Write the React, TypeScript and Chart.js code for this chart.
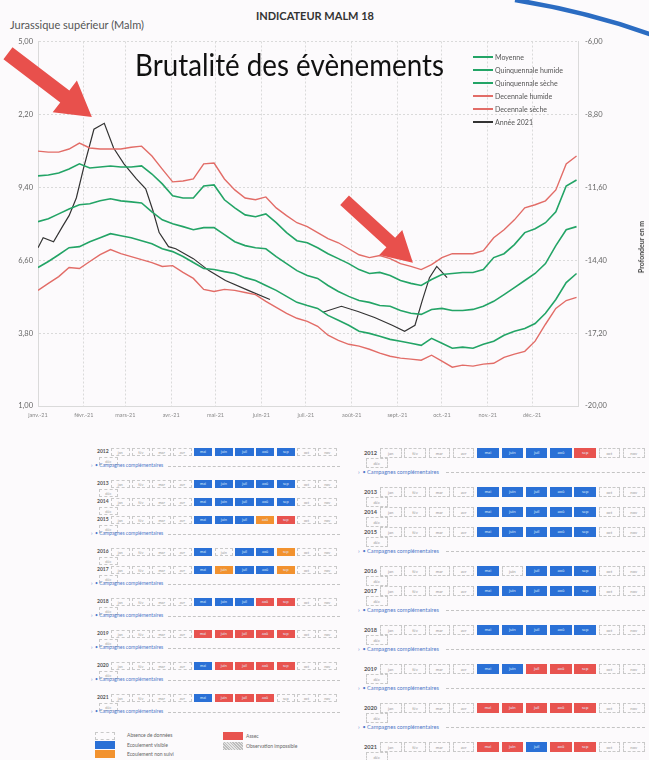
import React, { useEffect, useRef } from "react";
import { Chart, registerables } from "chart.js";

Chart.register(...registerables);

// ---------- chart data ----------
const monthLabels = ["janv.-21", "févr.-21", "mars-21", "avr.-21", "mai-21", "juin-21", "juil.-21", "août-21", "sept.-21", "oct.-21", "nov.-21", "déc.-21"];
const monthStartWeeks = [0, 4.43, 8.43, 12.86, 17.14, 21.57, 25.86, 30.29, 34.71, 39, 43.43, 47.71];
const yearEndWeek = 52.14;

const leftTickValues = [1, 3.8, 6.6, 9.4, 12.2, 15];
const leftTickLabels = ["1,00", "3,80", "6,60", "9,40", "2,20", "5,00"];
const rightTickValues = [-20, -17.2, -14.4, -11.6, -8.8, -6];
const rightTickLabels = ["-20,00", "-17,20", "-14,40", "-11,60", "-8,80", "-6,00"];

// weekly values (week 0 .. 52)
const moyenne = [8.08, 8.19, 8.38, 8.57, 8.73, 8.77, 8.88, 8.96, 8.88, 8.84, 8.80, 8.46, 8.15, 8.00, 7.89, 7.77, 7.85, 7.85, 7.58, 7.31, 7.16, 7.08, 7.04, 6.74, 6.47, 6.20, 6.01, 5.90, 5.63, 5.40, 5.21, 5.05, 4.98, 4.86, 4.83, 4.67, 4.56, 4.52, 4.71, 4.75, 4.67, 4.67, 4.71, 4.83, 5.02, 5.28, 5.55, 5.82, 6.09, 6.47, 7.16, 7.77, 7.89];
const quinquennaleHumide = [9.84, 9.87, 9.95, 10.10, 10.30, 10.14, 10.18, 10.22, 10.18, 10.18, 10.22, 9.91, 9.53, 9.07, 8.99, 8.99, 9.45, 9.49, 8.92, 8.61, 8.34, 8.27, 8.38, 8.04, 7.66, 7.35, 7.27, 7.08, 6.85, 6.66, 6.47, 6.24, 6.09, 6.13, 6.01, 5.82, 5.71, 5.63, 5.86, 6.05, 6.09, 6.13, 6.13, 6.24, 6.70, 6.85, 7.20, 7.66, 7.81, 8.04, 8.46, 9.45, 9.68];
const quinquennaleSeche = [6.32, 6.55, 6.81, 7.08, 7.12, 7.31, 7.46, 7.62, 7.54, 7.46, 7.35, 7.23, 7.04, 6.93, 6.74, 6.51, 6.28, 6.24, 6.16, 6.09, 5.93, 5.82, 5.63, 5.44, 5.21, 4.98, 4.86, 4.75, 4.48, 4.29, 4.10, 3.87, 3.79, 3.68, 3.56, 3.49, 3.41, 3.33, 3.60, 3.41, 3.22, 3.26, 3.22, 3.37, 3.49, 3.72, 3.87, 3.98, 4.17, 4.56, 5.09, 5.74, 6.09];
const decennaleHumide = [10.79, 10.75, 10.75, 10.87, 11.10, 10.91, 10.87, 10.87, 10.87, 10.94, 10.98, 10.60, 10.10, 9.61, 9.64, 9.72, 10.30, 10.33, 9.72, 9.30, 8.99, 8.92, 9.03, 8.61, 8.31, 8.04, 7.89, 7.66, 7.43, 7.27, 7.04, 6.81, 6.70, 6.78, 6.66, 6.47, 6.36, 6.24, 6.43, 6.70, 6.85, 6.85, 6.85, 6.97, 7.46, 7.77, 8.15, 8.61, 8.73, 8.88, 9.30, 10.30, 10.60];
const decennaleSeche = [5.44, 5.71, 5.97, 6.32, 6.28, 6.55, 6.81, 7.01, 6.85, 6.74, 6.62, 6.51, 6.36, 6.39, 6.13, 5.90, 5.48, 5.40, 5.48, 5.44, 5.36, 5.28, 5.02, 4.79, 4.56, 4.37, 4.25, 4.06, 3.72, 3.52, 3.37, 3.30, 3.18, 3.03, 2.91, 2.84, 2.80, 2.76, 2.95, 2.72, 2.49, 2.57, 2.53, 2.61, 2.64, 2.87, 2.99, 3.10, 3.49, 4.14, 4.75, 5.05, 5.17];

const annee2021Weeks = [0, 0.5, 1.5, 2.4, 3, 3.7, 4.4, 5.4, 6.4, 7.3, 8.3, 9.5, 10.4, 11.1, 11.7, 12.6, 13.3, 15, 16.5, 18.1, 20.3, 22.4, 25, 27.5, 29.3, 30.9, 32.5, 34.2, 35.4, 36.4, 37.1, 37.8, 38.5, 39.5];
const annee2021Values = [7.08, 7.46, 7.31, 7.92, 8.31, 8.99, 10.14, 11.63, 11.86, 10.91, 10.30, 9.72, 9.34, 8.50, 7.66, 7.12, 7.04, 6.66, 6.20, 5.82, 5.44, 5.09, null, 4.60, 4.83, 4.63, 4.40, 4.10, 3.87, 4.10, 5.05, 5.93, 6.36, 5.93];

// annotation arrows (data coordinates: week, value)
const arrowTailWeeks = [-2.9, 29.6];
const arrowTailValues = [14.55, 8.9];
const arrowTipWeeks = [5.2, 36.2];
const arrowTipValues = [12.1, 6.5];

// ---------- table data ----------
const tableMonths = ["jan", "fév", "mar", "avr", "mai", "juin", "juil", "aoû", "sep", "oct", "nov", "déc"];
const tableYears = [2012, 2013, 2014, 2015, 2016, 2017, 2018, 2019, 2020, 2021];
// V = écoulement visible, N = écoulement non suivi, A = assec, - = absence de données
const leftStatus = ["----VVVVV---", "----VVVVV---", "----VVVVV---", "----VVVNA---", "----V-VVN---", "----VNVVN---", "----VVVAA---", "----AAAAA---", "----VAAAA---", "----VAAA----"];
const leftCampaign = [true, false, false, true, false, true, true, true, true, true];
const rightStatus = ["----VVVVA---", "----VVVVV---", "----VVVVV---", "----VVVVV---", "----V-VVV---", "----VVVVV---", "----VVVVV---", "----VVAAA---", "----AAAAA---", "----AAVAA---"];
const rightCampaign = [true, false, false, true, false, true, true, true, true, false];

const GREEN = "#23a466";
const RED = "#e26c67";
const BLACK = "#333333";
const ARROW = "#e8504c";
const BLUE = "#2a70d6";
const ORANGE = "#f2922f";
const ASSEC = "#e8534f";

const legendItems = [
  { label: "Moyenne", color: GREEN },
  { label: "Quinquennale humide", color: GREEN },
  { label: "Quinquennale sèche", color: GREEN },
  { label: "Decennale humide", color: RED },
  { label: "Decennale sèche", color: RED },
  { label: "Année 2021", color: BLACK },
];

const statusColor: Record<string, string> = { V: BLUE, N: ORANGE, A: ASSEC };

const arrowPlugin = {
  id: "arrows",
  afterDatasetsDraw(chart: any) {
    const { ctx, scales } = chart;
    const x = scales.x;
    const y = scales.y;
    const shafts = [15, 13];
    const heads = [40, 34];
    const headLens = [34, 30];
    arrowTailWeeks.forEach((_, i) => {
      const x0 = x.getPixelForValue(arrowTailWeeks[i]);
      const y0 = y.getPixelForValue(arrowTailValues[i]);
      const x1 = x.getPixelForValue(arrowTipWeeks[i]);
      const y1 = y.getPixelForValue(arrowTipValues[i]);
      const len = Math.hypot(x1 - x0, y1 - y0);
      const dx = (x1 - x0) / len;
      const dy = (y1 - y0) / len;
      const nx = -dy;
      const ny = dx;
      const bx = x1 - dx * headLens[i];
      const by = y1 - dy * headLens[i];
      const sw = shafts[i] / 2;
      const hw = heads[i] / 2;
      ctx.save();
      ctx.fillStyle = ARROW;
      ctx.beginPath();
      ctx.moveTo(x0 + nx * sw, y0 + ny * sw);
      ctx.lineTo(bx + nx * sw, by + ny * sw);
      ctx.lineTo(bx + nx * hw, by + ny * hw);
      ctx.lineTo(x1, y1);
      ctx.lineTo(bx - nx * hw, by - ny * hw);
      ctx.lineTo(bx - nx * sw, by - ny * sw);
      ctx.lineTo(x0 - nx * sw, y0 - ny * sw);
      ctx.closePath();
      ctx.fill();
      ctx.restore();
    });
  },
};

function weekly(values: number[]) {
  return values.map((v, i) => ({ x: i, y: v }));
}

type Geom = {
  labelX: number; cellX0: number; pitch: number; cellW: number; cellH: number;
  y0: number; rowPitch: number; campOffset: number; campAfter: number;
  textEnd: number; lineEnd: number; font: number;
};

function StatusTable({ status, campaign, g }: { status: string[]; campaign: boolean[]; g: Geom }) {
  const items: any[] = [];
  let y = g.y0;
  tableYears.forEach((yr, r) => {
    items.push(
      <div key={"y" + yr} style={{ position: "absolute", left: g.labelX, top: y - g.font * 0.6, fontSize: g.font, lineHeight: 1, fontWeight: 700, color: "#555" }}>{yr}</div>
    );
    status[r].split("").forEach((c, m) => {
      const isDec = m === 11;
      const left = isDec ? g.labelX + 2 : g.cellX0 + m * g.pitch;
      const top = isDec ? y + g.cellH / 2 + 0.5 : y - g.cellH / 2;
      const col = statusColor[c];
      items.push(
        <div key={"c" + yr + m} style={{
          position: "absolute", left, top, width: g.cellW, height: g.cellH, boxSizing: "border-box",
          background: col || "transparent", border: col ? "none" : "1px dashed #c9c9c9",
          color: col ? "#dfe9fb" : "#999", fontSize: g.font * 0.75, lineHeight: g.cellH + "px", textAlign: "center",
        }}>{tableMonths[m]}</div>
      );
    });
    if (campaign[r]) {
      const cy = y + g.campOffset;
      items.push(
        <div key={"t" + yr} style={{ position: "absolute", left: g.labelX - 6, top: cy - g.font * 0.6, fontSize: g.font, lineHeight: 1, color: "#4f78c9", whiteSpace: "nowrap" }}>›&nbsp;&nbsp;•&nbsp;Campagnes complémentaires</div>
      );
      items.push(
        <div key={"l" + yr} style={{ position: "absolute", left: g.textEnd, top: cy, width: g.lineEnd - g.textEnd, borderTop: "1px dashed #c4c4c4" }} />
      );
      y = cy + g.campAfter;
    } else {
      y += g.rowPitch;
    }
  });
  return <>{items}</>;
}

const leftGeom: Geom = { labelX: 97, cellX0: 111, pitch: 20.7, cellW: 18.5, cellH: 8, y0: 452, rowPitch: 18, campOffset: 14, campAfter: 18, textEnd: 168, lineEnd: 340, font: 5 };
const rightGeom: Geom = { labelX: 364, cellX0: 380, pitch: 24.3, cellW: 21.5, cellH: 9.5, y0: 453, rowPitch: 20, campOffset: 19, campAfter: 20, textEnd: 446, lineEnd: 645, font: 5.6 };

export default function App() {
  const ref = useRef<HTMLCanvasElement>(null);

  useEffect(() => {
    const gridColor = "#dadada";
    const chart = new Chart(ref.current!, {
      type: "line",
      data: {
        datasets: [
          { label: "Moyenne", data: weekly(moyenne), borderColor: GREEN, borderWidth: 1.6 },
          { label: "Quinquennale humide", data: weekly(quinquennaleHumide), borderColor: GREEN, borderWidth: 1.6 },
          { label: "Quinquennale sèche", data: weekly(quinquennaleSeche), borderColor: GREEN, borderWidth: 1.6 },
          { label: "Decennale humide", data: weekly(decennaleHumide), borderColor: RED, borderWidth: 1.4 },
          { label: "Decennale sèche", data: weekly(decennaleSeche), borderColor: RED, borderWidth: 1.4 },
          { label: "Année 2021", data: annee2021Weeks.map((w, i) => ({ x: w, y: annee2021Values[i] })), borderColor: BLACK, borderWidth: 1.2, spanGaps: false },
        ] as any,
      },
      options: {
        animation: false,
        responsive: false,
        devicePixelRatio: 1,
        layout: { padding: { top: 10, left: 0, right: 0, bottom: 0 } },
        elements: { point: { radius: 0 }, line: { tension: 0, fill: false } },
        plugins: { legend: { display: false }, tooltip: { enabled: false } },
        scales: {
          x: {
            type: "linear", min: 0, max: yearEndWeek,
            afterBuildTicks: (s: any) => { s.ticks = monthStartWeeks.map((v) => ({ value: v })); },
            afterFit: (s: any) => { s.height = 24; },
            ticks: { autoSkip: false, maxRotation: 0, padding: 6, color: "#8a8a8a", font: { size: 5.5, family: "Lato" }, callback: (_v: any, i: number) => monthLabels[i] },
            grid: { color: gridColor, drawTicks: false },
            border: { color: gridColor, dash: [2, 2] },
          },
          y: {
            position: "left", min: 1, max: 15,
            afterBuildTicks: (s: any) => { s.ticks = leftTickValues.map((v) => ({ value: v })); },
            afterFit: (s: any) => { s.width = 38; },
            ticks: { padding: 5, color: "#666", font: { size: 7.5, family: "Lato" }, callback: (_v: any, i: number) => leftTickLabels[i] },
            grid: { color: gridColor, drawTicks: false },
            border: { color: gridColor, dash: [2, 2] },
          },
          y1: {
            position: "right", min: -20, max: -6,
            afterBuildTicks: (s: any) => { s.ticks = rightTickValues.map((v) => ({ value: v })); },
            afterFit: (s: any) => { s.width = 71; },
            ticks: { padding: 7, color: "#666", font: { size: 7.5, family: "Lato" }, callback: (_v: any, i: number) => rightTickLabels[i] },
            grid: { drawOnChartArea: false, drawTicks: false },
            border: { color: gridColor, dash: [2, 2] },
          },
        },
      } as any,
      plugins: [arrowPlugin],
    });
    return () => chart.destroy();
  }, []);

  return (
    <div style={{ position: "absolute", left: 0, top: 0, width: 649, height: 760, overflow: "hidden", background: "#fcfafc", fontFamily: "Lato, 'Open Sans', sans-serif" }}>
      <svg width={649} height={60} style={{ position: "absolute", left: 0, top: 0 }}>
        <path d="M 515 0 Q 590 12 655 36" stroke="#2b6cc2" strokeWidth={4.5} fill="none" />
      </svg>
      <div style={{ position: "absolute", left: 256, top: 10, fontSize: 11, lineHeight: 1, fontWeight: 700, color: "#333" }}>INDICATEUR MALM 18</div>
      <div style={{ position: "absolute", left: 10, top: 19, fontSize: 11, lineHeight: 1, color: "#555" }}>Jurassique supérieur (Malm)</div>

      <div style={{ position: "absolute", left: 0, top: 30, width: 649, height: 400 }}>
        <canvas ref={ref} width={649} height={400} style={{ width: 649, height: 400, display: "block" }} />
      </div>

      <div style={{ position: "absolute", left: 135, top: 49, fontSize: 30, lineHeight: 1, color: "#111", whiteSpace: "nowrap", transform: "scaleX(0.925)", transformOrigin: "left top" }}>Brutalité des évènements</div>

      {legendItems.map((it, i) => (
        <div key={it.label} style={{ position: "absolute", left: 473, top: 52.5 + i * 13, height: 9, display: "flex", alignItems: "center", whiteSpace: "nowrap" }}>
          <div style={{ width: 20, height: 1.6, background: it.color, marginRight: 2 }} />
          <span style={{ fontSize: 7, color: "#555" }}>{it.label}</span>
        </div>
      ))}

      <div style={{ position: "absolute", left: 641, top: 247, transform: "translate(-50%, -50%) rotate(-90deg)", fontSize: 7, fontWeight: 700, color: "#444", whiteSpace: "nowrap" }}>Profondeur en m</div>

      <StatusTable status={leftStatus} campaign={leftCampaign} g={leftGeom} />
      <StatusTable status={rightStatus} campaign={rightCampaign} g={rightGeom} />

      {/* status legend */}
      <div style={{ position: "absolute", left: 95, top: 732, width: 20, height: 8, boxSizing: "border-box", border: "1px dashed #c9c9c9" }} />
      <div style={{ position: "absolute", left: 127, top: 733, fontSize: 5, lineHeight: 1, color: "#666" }}>Absence de données</div>
      <div style={{ position: "absolute", left: 95, top: 741, width: 20, height: 8, background: BLUE }} />
      <div style={{ position: "absolute", left: 127, top: 742.5, fontSize: 5, lineHeight: 1, color: "#666" }}>Ecoulement visible</div>
      <div style={{ position: "absolute", left: 95, top: 750, width: 20, height: 8, background: ORANGE }} />
      <div style={{ position: "absolute", left: 127, top: 751.5, fontSize: 5, lineHeight: 1, color: "#666" }}>Ecoulement non suivi</div>
      <div style={{ position: "absolute", left: 223, top: 732, width: 20, height: 8, background: ASSEC }} />
      <div style={{ position: "absolute", left: 246, top: 733.5, fontSize: 5, lineHeight: 1, color: "#666" }}>Assec</div>
      <div style={{ position: "absolute", left: 223, top: 742, width: 20, height: 8, background: "repeating-linear-gradient(45deg, #bdbdbd 0 1px, #e6e6e6 1px 2px)" }} />
      <div style={{ position: "absolute", left: 246, top: 743.5, fontSize: 5, lineHeight: 1, color: "#666" }}>Observation impossible</div>
    </div>
  );
}
